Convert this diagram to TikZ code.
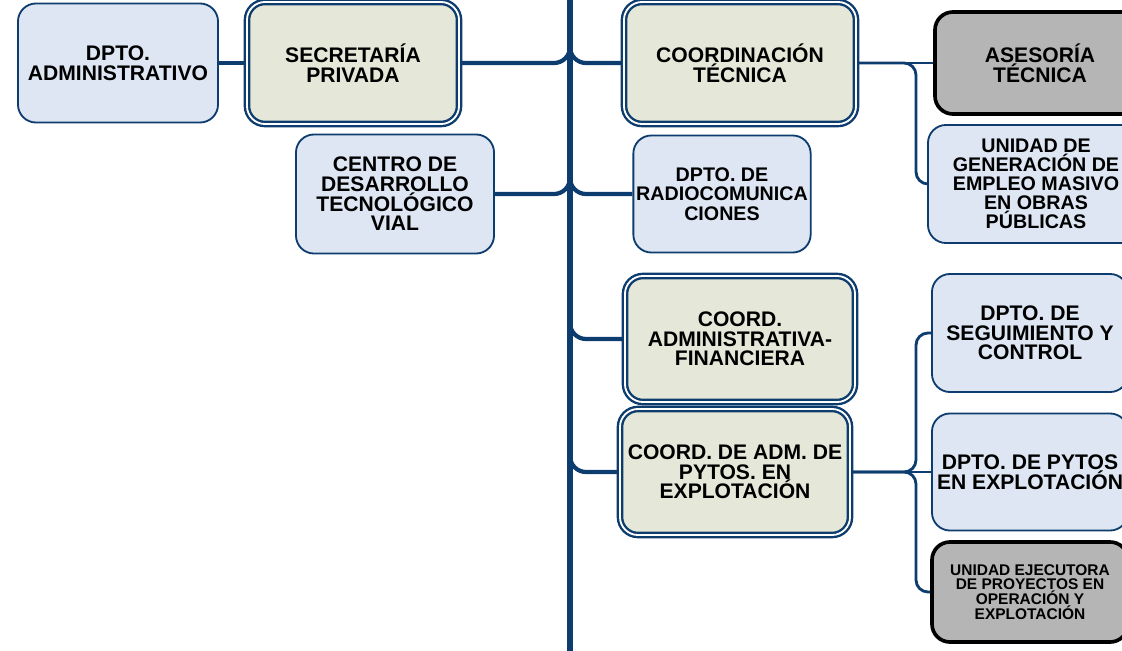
\documentclass[tikz,border=0pt]{standalone}
\usepackage{fontspec}
\setmainfont{Liberation Sans}
\usepackage{tikz}

\definecolor{marino}{HTML}{0D3C6E}
\definecolor{celeste}{HTML}{DDE6F2}
\definecolor{crema}{HTML}{E5E7D8}
\definecolor{gris}{HTML}{B5B5B5}

\begin{document}
\begin{tikzpicture}[
                    x=0.025cm, y=-0.025cm,
                    every node/.style={
                        rectangle,
                        rounded corners=0.45cm,
                        align=center,
                        inner sep=2pt,
                        font=\bfseries\fontsize{15}{14}\selectfont
                    },
                    dpto/.style={draw=marino, line width=1.3pt, fill=celeste},
                    coord/.style={draw=marino, line width=1.7pt, double=white, double distance=1.3pt, fill=crema},
                    asesor/.style={draw=black, line width=2.6pt, fill=gris},
                    eje/.style={draw=marino, line width=4.5pt},
                    rama/.style={draw=marino, line width=3pt, rounded corners=0.4cm},
                    ramita/.style={draw=marino, line width=2pt, rounded corners=0.3cm}
                ]
                    \useasboundingbox (0,0) rectangle (1122,650);
                    \clip (0,0) rectangle (1122,650);

                    % Eje central
                    \coordinate (arriba) at (570,-10);
                    \coordinate (abajo) at (570,660);
                    \coordinate (j1) at (570,30);
                    \coordinate (j2) at (570,161);
                    \coordinate (j3) at (570,306);
                    \coordinate (j4) at (570,440);
                    \coordinate (b1) at (916,0);
                    \draw[eje] (arriba) -- (abajo);

                    % Izquierda
                    \node[dpto, minimum width=5cm, minimum height=2.975cm] (adm) at (118,63) {DPTO.\\ADMINISTRATIVO};
                    \node[coord, minimum width=5.3cm, minimum height=3.05cm] (sec) at (353,63) {SECRETARÍA\\PRIVADA};
                    \node[dpto, minimum width=4.95cm, minimum height=2.975cm] (cdt) at (395,194) {CENTRO DE\\DESARROLLO\\TECNOLÓGICO\\VIAL};

                    % Derecha
                    \node[coord, minimum width=5.8cm, minimum height=3.05cm] (ctec) at (740,63) {COORDINACIÓN\\TÉCNICA};
                    \node[dpto, minimum width=4.3cm, minimum height=2.925cm, font=\bfseries\fontsize{14}{14}\selectfont] (radio) at (722,194) {DPTO. DE\\RADIOCOMUNICA\\CIONES};
                    \node[coord, minimum width=5.75cm, minimum height=3.15cm] (cadm) at (740,339) {COORD.\\ADMINISTRATIVA-\\FINANCIERA};
                    \node[coord, minimum width=5.75cm, minimum height=3.15cm] (cpyt) at (735,472) {COORD. DE ADM. DE\\PYTOS. EN\\EXPLOTACIÓN};

                    \node[asesor, minimum width=5.25cm, minimum height=2.55cm] (ases) at (1040,63) {ASESORÍA\\TÉCNICA};
                    \node[dpto, minimum width=5.4cm, minimum height=2.95cm, font=\bfseries\fontsize{14}{13.5}\selectfont] (empleo) at (1036,184) {UNIDAD DE\\GENERACIÓN DE\\EMPLEO MASIVO\\EN OBRAS\\PÚBLICAS};
                    \node[dpto, minimum width=4.9cm, minimum height=2.95cm] (seg) at (1030,333) {DPTO. DE\\SEGUIMIENTO Y\\CONTROL};
                    \node[dpto, minimum width=4.9cm, minimum height=2.925cm] (dpyt) at (1030,472) {DPTO. DE PYTOS\\EN EXPLOTACIÓN};
                    \node[asesor, minimum width=4.9cm, minimum height=2.5cm, font=\bfseries\fontsize{11}{10.5}\selectfont] (ueje) at (1030,592) {UNIDAD EJECUTORA\\DE PROYECTOS EN\\OPERACIÓN Y\\EXPLOTACIÓN};

                    % Edges
                    \draw[rama] (adm) -- (sec);
                    \draw[rama] (sec.east) -| (j1);
                    \draw[rama] (cdt.east) -| (j2);
                    \draw[rama] (ctec.west) -| (j1);
                    \draw[rama] (radio.west) -| (j2);
                    \draw[rama] (cadm.west) -| (j3);
                    \draw[rama] (cpyt.west) -| (j4);
                    \draw[ramita] (ctec.east) -- (ases.west);
                    \draw[ramita] (ctec.east) -| (b1 |- empleo.west) -- (empleo.west);
                    \draw[ramita] (cpyt.east) -| (b1 |- seg.west) -- (seg.west);
                    \draw[ramita] (cpyt.east) -- (dpyt.west);
                    \draw[ramita] (cpyt.east) -| (b1 |- ueje.west) -- (ueje.west);
                \end{tikzpicture}
\end{document}
